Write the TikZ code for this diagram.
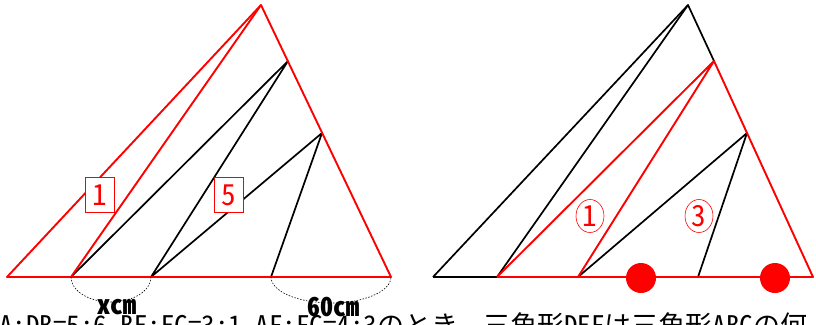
\documentclass[tikz,border=0pt]{standalone}
\usepackage{fontspec}
\newfontfamily\jp[RawFeature=+hwid]{Noto Sans CJK JP}
\usetikzlibrary{shapes.geometric}
\definecolor{pr}{RGB}{255,0,0}
\begin{document}
\begin{tikzpicture}[x=1pt,y=-1pt,
  redline/.style={draw=pr,line width=1.9pt,line join=round},
  blackline/.style={draw=black,line width=1.7pt,line join=round},
  boxlabel/.style={draw=pr,fill=white,line width=0.6pt,text=pr,minimum width=29pt,minimum height=35pt,inner sep=0pt,font=\jp\fontsize{29}{29}\selectfont},
  circlabel/.style={ellipse,draw=pr,fill=white,line width=0.6pt,text=pr,minimum width=28pt,minimum height=33pt,inner sep=0pt,font=\jp\fontsize{29}{29}\selectfont},
  arcline/.style={draw=black,dash pattern=on 1.5pt off 1.5pt,line width=0.6pt},
  dimtext/.style={font=\jp\bfseries\fontsize{26}{26}\selectfont,inner sep=0pt},
  reddot/.style={circle,fill=pr,minimum size=30pt,inner sep=0pt}
]
\useasboundingbox (0,0) rectangle (816,324);
% left figure points
\coordinate (A1) at (261,5);
\coordinate (B1) at (7,277);
\coordinate (D1) at (71,277);
\coordinate (E1) at (151,277);
\coordinate (F1) at (271,277);
\coordinate (C1) at (391,277);
\coordinate (P1) at (288,61);
\coordinate (Q1) at (322,133);
% right figure points
\coordinate (A2) at (688,5);
\coordinate (B2) at (433,277);
\coordinate (D2) at (497,277);
\coordinate (E2) at (578,277);
\coordinate (F2) at (698,277);
\coordinate (C2) at (813,277);
\coordinate (P2) at (714,61);
\coordinate (Q2) at (747,133);

% left figure
\draw[blackline] (D1) -- (P1) -- (E1) -- (Q1) -- (F1);
\draw[redline] (B1) -- (A1) -- (C1) -- cycle;
\draw[redline] (D1) -- (A1);
\draw[arcline] (D1) arc[start angle=180,end angle=360,x radius=40pt,y radius=25pt];
\draw[arcline] (F1) arc[start angle=180,end angle=360,x radius=60pt,y radius=26pt];
\node[boxlabel] (L1) at (100,195) {1};
\node[boxlabel] (L5) at (229,195) {5};
\node[dimtext] (xcm) at (117,307) {xcm};
\node[dimtext] (sixty) at (333,307) {60cm};

% right figure
\draw[blackline] (B2) -- (A2) -- (P2);
\draw[blackline] (D2) -- (A2);
\draw[blackline] (B2) -- (D2);
\draw[blackline] (E2) -- (Q2) -- (F2);
\draw[redline] (D2) -- (P2) -- (E2);
\draw[redline] (P2) -- (C2) -- (D2);
\node[reddot] (dot1) at (641,278) {};
\node[reddot] (dot2) at (775,278) {};
\node[circlabel] (c1) at (590,216) {1};
\node[circlabel] (c3) at (699,216) {3};

% bottom text (cut by the picture edge)
\node[anchor=base west,inner sep=0pt,font=\jp\fontsize{27}{27}\selectfont] (q) at (-1,335) {A:DB=5:6，BE:EC=3:1，AF:FC=4:3のとき、三角形DEFは三角形ABCの何};
\end{tikzpicture}
\end{document}
